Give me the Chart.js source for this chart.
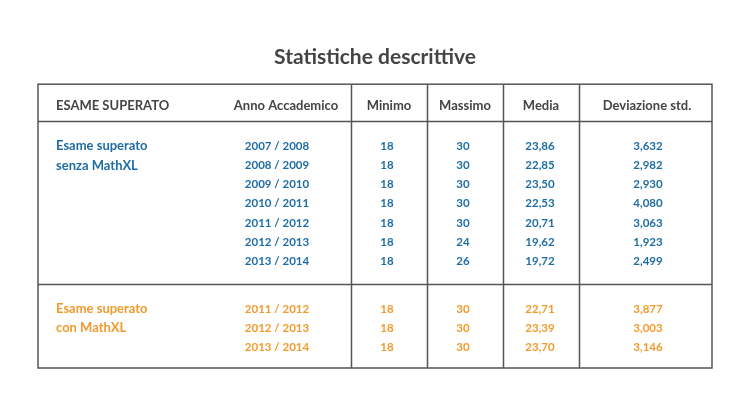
<!DOCTYPE html>
<html>
<head>
<meta charset="utf-8">
<script src="https://cdn.jsdelivr.net/npm/chart.js@4/dist/chart.umd.min.js"></script>
<style>
  body { margin: 0; background: #fff; }
  canvas { display: block; }
</style>
</head>
<body>
<canvas id="statChart" width="750" height="420"></canvas>
<script>
// Table content
const headers = ['ESAME SUPERATO', 'Anno Accademico', 'Minimo', 'Massimo', 'Media', 'Deviazione std.'];
const labelSenza = ['Esame superato', 'senza MathXL'];
const labelCon = ['Esame superato', 'con MathXL'];

const yearsSenza = ['2007 / 2008', '2008 / 2009', '2009 / 2010', '2010 / 2011', '2011 / 2012', '2012 / 2013', '2013 / 2014'];
const minSenza = [18, 18, 18, 18, 18, 18, 18];
const maxSenza = [30, 30, 30, 30, 30, 24, 26];
const mediaSenza = [23.86, 22.85, 23.50, 22.53, 20.71, 19.62, 19.72];
const devSenza = [3.632, 2.982, 2.930, 4.080, 3.063, 1.923, 2.499];

const yearsCon = ['2011 / 2012', '2012 / 2013', '2013 / 2014'];
const minCon = [18, 18, 18];
const maxCon = [30, 30, 30];
const mediaCon = [22.71, 23.39, 23.70];
const devCon = [3.877, 3.003, 3.146];

// Layout (table units, origin at top-left of the box)
const TABLE_W = 674, TABLE_H = 284;
const headX = [18, 248, 351, 427, 503, 609];
const colX = [18, 239, 349, 425, 502, 610];
const colLines = [313, 389, 465, 541];
const rowLines = [37, 200];
const headY = 22;
const startSenza = 62, startCon = 225, rowStep = 19.2;

const BLUE = '#1f6ea3';
const ORANGE = '#f39a2c';
const GREY = '#444444';
const FONT = 'Lato, "Open Sans", sans-serif';

const fmt = (v, d) => v.toFixed(d).replace('.', ',');

const column = (x, start, texts, color, align) => ({
    data: texts.map((_, i) => ({x: x, y: start + i * rowStep})),
    texts: texts,
    color: color,
    align: align || 'center',
    font: 'bold 11.5px ' + FONT,
    pointRadius: 0
});

const datasets = [
    {
        data: headers.map((_, i) => ({x: headX[i], y: headY})),
        texts: headers,
        color: GREY,
        align: 'mixed',
        font: 'bold 13px ' + FONT,
        pointRadius: 0
    },
    Object.assign(column(colX[0], startSenza, labelSenza, BLUE, 'left'), {font: 'bold 13px ' + FONT}),
    column(colX[1], startSenza, yearsSenza, BLUE),
    column(colX[2], startSenza, minSenza.map(String), BLUE),
    column(colX[3], startSenza, maxSenza.map(String), BLUE),
    column(colX[4], startSenza, mediaSenza.map(v => fmt(v, 2)), BLUE),
    column(colX[5], startSenza, devSenza.map(v => fmt(v, 3)), BLUE),
    Object.assign(column(colX[0], startCon, labelCon, ORANGE, 'left'), {font: 'bold 13px ' + FONT}),
    column(colX[1], startCon, yearsCon, ORANGE),
    column(colX[2], startCon, minCon.map(String), ORANGE),
    column(colX[3], startCon, maxCon.map(String), ORANGE),
    column(colX[4], startCon, mediaCon.map(v => fmt(v, 2)), ORANGE),
    column(colX[5], startCon, devCon.map(v => fmt(v, 3)), ORANGE)
];

// Draws the grid of the table and the cell texts
const tablePlugin = {
    id: 'tablePlugin',
    beforeDatasetsDraw(chart) {
        const {ctx, chartArea: a, scales: {x, y}} = chart;
        ctx.save();
        ctx.strokeStyle = '#555555';
        ctx.lineWidth = 1.5;
        ctx.strokeRect(a.left, a.top, a.right - a.left, a.bottom - a.top);
        ctx.beginPath();
        colLines.forEach(v => {
            const px = Math.round(x.getPixelForValue(v)) + 0.5;
            ctx.moveTo(px, a.top);
            ctx.lineTo(px, a.bottom);
        });
        rowLines.forEach(v => {
            const py = Math.round(y.getPixelForValue(v)) + 0.5;
            ctx.moveTo(a.left, py);
            ctx.lineTo(a.right, py);
        });
        ctx.stroke();
        ctx.restore();
    },
    afterDatasetsDraw(chart) {
        const ctx = chart.ctx;
        ctx.save();
        ctx.textBaseline = 'middle';
        chart.data.datasets.forEach((ds, i) => {
            const meta = chart.getDatasetMeta(i);
            ctx.fillStyle = ds.color;
            ctx.font = ds.font;
            meta.data.forEach((pt, j) => {
                ctx.textAlign = ds.align === 'mixed' ? (j === 0 ? 'left' : 'center') : ds.align;
                ctx.fillText(ds.texts[j], pt.x, pt.y);
            });
        });
        ctx.restore();
    }
};

new Chart(document.getElementById('statChart'), {
    type: 'scatter',
    data: {datasets: datasets},
    options: {
        responsive: false,
        animation: false,
        layout: {padding: {left: 38, right: 38, top: 0, bottom: 52}},
        plugins: {
            legend: {display: false},
            tooltip: {enabled: false},
            title: {
                display: true,
                text: 'Statistiche descrittive',
                color: GREY,
                font: {family: FONT, size: 21, weight: 'bold', lineHeight: 1.2},
                padding: {top: 45, bottom: 14}
            }
        },
        scales: {
            x: {type: 'linear', display: false, min: 0, max: TABLE_W},
            y: {type: 'linear', display: false, min: 0, max: TABLE_H, reverse: true}
        }
    },
    plugins: [tablePlugin]
});
</script>
</body>
</html>
